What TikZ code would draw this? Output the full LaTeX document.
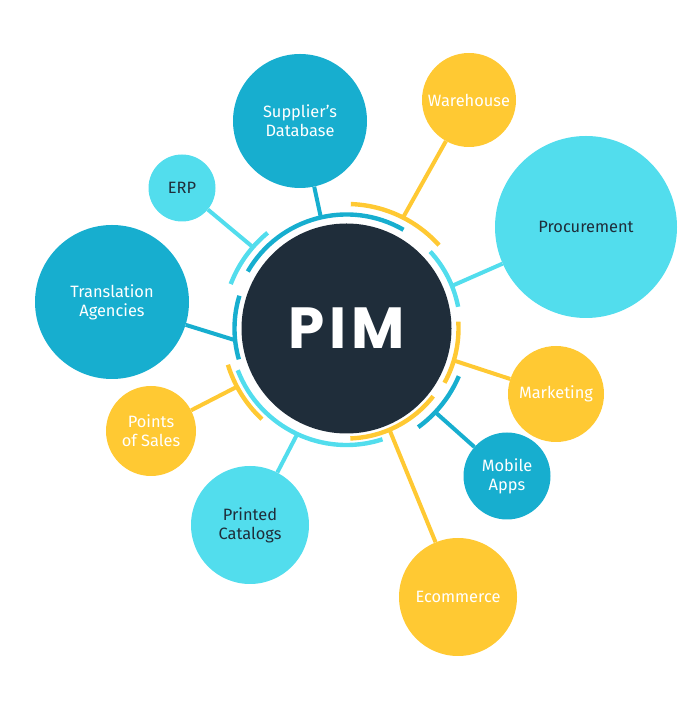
\documentclass[tikz,border=0pt]{standalone}
\usepackage{fontspec}
\setmainfont{Fira Sans}
\newfontfamily\pimfont[LetterSpace=8]{Poppins}
\definecolor{navy}{HTML}{1F2D3A}
\definecolor{deepblue}{HTML}{17AECF}
\definecolor{skyblue}{HTML}{52DDED}
\definecolor{sun}{HTML}{FFC933}
\tikzset{
  bubble/.style={circle, inner sep=0pt, align=center, text=white,
    font=\fontsize{16.4}{19}\selectfont},
  pale/.style={bubble, fill=skyblue, text=navy},
  link/.style={line width=4pt},
  ring/.style={line width=4.4pt}
}
\begin{document}
\begin{tikzpicture}[x=1pt,y=1pt]
            \useasboundingbox (0,0) rectangle (700,701);
            \node (pim) [circle, fill=navy, text=white, inner sep=0pt, minimum size=210pt,
              font=\pimfont\bfseries\fontsize{58}{58}\selectfont] at (346.5,372.5) {PIM};
            \node (sup) [bubble, fill=deepblue, minimum size=134pt] at (300,580) {Supplier’s\\Database};
            \node (ware) [bubble, fill=sun, minimum size=94pt] at (469,601) {Warehouse};
            \node (erp) [pale, minimum size=67pt] at (182,513) {ERP};
            \node (proc) [pale, minimum size=182pt] at (586,474) {Procurement};
            \node (trans) [bubble, fill=deepblue, minimum size=154pt] at (112,399) {Translation\\Agencies};
            \node (pos) [bubble, fill=sun, minimum size=90pt] at (151,270) {Points\\of Sales};
            \node (print) [pale, minimum size=118pt] at (250,176) {Printed\\Catalogs};
            \node (ecom) [bubble, fill=sun, minimum size=118pt] at (458,104) {Ecommerce};
            \node (mob) [bubble, fill=deepblue, minimum size=87pt] at (507,225) {Mobile\\Apps};
            \node (mark) [bubble, fill=sun, minimum size=96pt] at (556,307) {Marketing};

            % where the links meet the rings
            \coordinate (sup-in) at ([shift={(103:114)}]pim);
            \coordinate (ware-in) at ([shift={(63:124.5)}]pim);
            \coordinate (erp-in) at ([shift={(139:124)}]pim);
            \coordinate (proc-in) at ([shift={(22:113.7)}]pim);
            \coordinate (trans-in) at ([shift={(186:112)}]pim);
            \coordinate (pos-in) at ([shift={(208:124)}]pim);
            \coordinate (print-in) at ([shift={(245:116.5)}]pim);
            \coordinate (ecom-in) at ([shift={(293:110)}]pim);
            \coordinate (mob-in) at ([shift={(316.7:122)}]pim);
            \coordinate (mark-in) at ([shift={(343.4:112)}]pim);

            \path[link]
            (sup) edge[deepblue] (sup-in)
            (ware) edge[sun] (ware-in)
            (erp) edge[skyblue] (erp-in)
            (proc) edge[skyblue] (proc-in)
            (trans) edge[deepblue] (trans-in)
            (pos) edge[sun] (pos-in)
            (print) edge[skyblue] (print-in)
            (ecom) edge[sun] (ecom-in)
            (mob) edge[deepblue] (mob-in)
            (mark) edge[sun] (mark-in);

            % rings round PIM
            \draw[ring, deepblue] ([shift={(60:114)}]pim) arc[start angle=60, end angle=150, radius=114];
            \draw[ring, skyblue] ([shift={(129.5:124)}]pim) arc[start angle=129.5, end angle=159, radius=124];
            \draw[ring, deepblue] ([shift={(163:112)}]pim) arc[start angle=163, end angle=196, radius=112];
            \draw[ring, sun] ([shift={(197:124)}]pim) arc[start angle=197, end angle=227, radius=124];
            \draw[ring, skyblue] ([shift={(201:116.5)}]pim) arc[start angle=201, end angle=288, radius=116.5];
            \draw[ring, sun] ([shift={(272:110)}]pim) arc[start angle=272, end angle=322, radius=110];
            \draw[ring, deepblue] ([shift={(306:122)}]pim) arc[start angle=306, end angle=337, radius=122];
            \draw[ring, sun] ([shift={(331:112)}]pim) arc[start angle=331, end angle=363.5, radius=112];
            \draw[ring, skyblue] ([shift={(11:113.7)}]pim) arc[start angle=11, end angle=42.6, radius=113.7];
            \draw[ring, sun] ([shift={(42:124.5)}]pim) arc[start angle=42, end angle=88, radius=124.5];

\end{tikzpicture}
\end{document}
